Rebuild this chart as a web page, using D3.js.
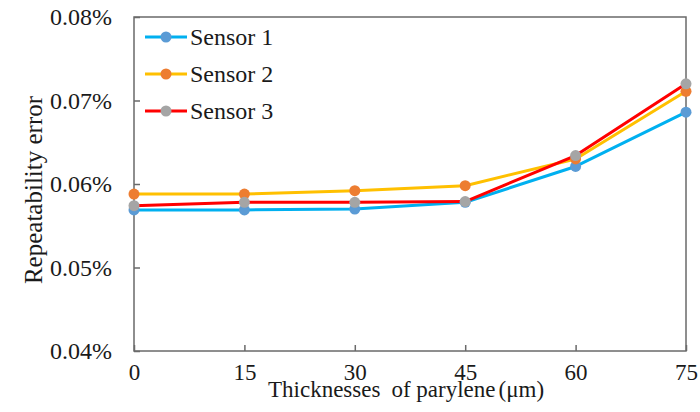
<!DOCTYPE html>
<html>
<head>
<meta charset="utf-8">
<script src="https://cdn.jsdelivr.net/npm/d3@7/dist/d3.min.js"></script>
<style>
  html, body { margin: 0; padding: 0; background: #fff; }
  svg { display: block; }
</style>
</head>
<body>
<svg id="chart" width="700" height="412"></svg>
<script>
const thickness = [0, 15, 30, 45, 60, 75];
const yTicks = [0.04, 0.05, 0.06, 0.07, 0.08];
const sensor1 = [0.0569, 0.0569, 0.0570, 0.0578, 0.0621, 0.0686];
const sensor2 = [0.0588, 0.0588, 0.0592, 0.0598, 0.0630, 0.0711];
const sensor3 = [0.0574, 0.0578, 0.0578, 0.0579, 0.0634, 0.0720];
const seriesNames = ["Sensor 1", "Sensor 2", "Sensor 3"];
const lineColors = ["#00B0F0", "#FFC000", "#FF0000"];
const markerColors = ["#5B9BD5", "#ED7D31", "#A5A5A5"];

const FONT = "'Liberation Serif'";
const TXT = "#1a1a1a";

const series = [sensor1, sensor2, sensor3].map((vals, i) => ({
  name: seriesNames[i], line: lineColors[i], marker: markerColors[i],
  values: vals.map((v, j) => ({ x: thickness[j], y: v }))
}));

const svg = d3.select("#chart");
const mLeft = 134, mRight = 686, mTop = 17, mBottom = 351;

const x = d3.scaleLinear().domain([0, 75]).range([mLeft, mRight]);
const y = d3.scaleLinear().domain([0.04, 0.08]).range([mBottom, mTop]);

const frameColor = "#6a6a6a";

// frame
svg.append("rect")
  .attr("x", mLeft).attr("y", mTop)
  .attr("width", mRight - mLeft).attr("height", mBottom - mTop)
  .attr("fill", "none").attr("stroke", frameColor).attr("stroke-width", 1.5);

// y axis
const yAxis = d3.axisLeft(y).tickValues(yTicks).tickSize(-6).tickPadding(22)
  .tickFormat(d => d3.format(".2f")(d) + "%");
const gy = svg.append("g").attr("transform", `translate(${mLeft},0)`).call(yAxis);
gy.select(".domain").remove();
gy.selectAll(".tick line").attr("stroke", frameColor).attr("stroke-width", 1.5);
gy.selectAll(".tick text")
  .style("font-family", FONT).style("font-size", "24px").attr("fill", TXT)
  .attr("dy", "0.33em");

// x axis
const xAxis = d3.axisBottom(x).tickValues(thickness).tickSize(-6).tickPadding(23);
const gx = svg.append("g").attr("transform", `translate(0,${mBottom})`).call(xAxis);
gx.select(".domain").remove();
gx.selectAll(".tick line").attr("stroke", frameColor).attr("stroke-width", 1.5);
gx.selectAll(".tick text")
  .style("font-family", FONT).style("font-size", "23px").attr("fill", TXT)
  .attr("y", 29).attr("dy", 0);

// axis titles
const xt = svg.append("text").attr("x", 268).attr("y", 397)
  .style("font-family", FONT).style("font-size", "23px").attr("fill", TXT);
xt.append("tspan").text("Thicknesses");
xt.append("tspan").attr("dx", 11).text("of parylene");
xt.append("tspan").attr("dx", 3).text("(μm)");

svg.append("text")
  .attr("transform", "translate(42,190) rotate(-90)")
  .attr("text-anchor", "middle")
  .style("font-family", FONT).style("font-size", "25px").attr("fill", TXT)
  .text("Repeatability error");

// lines
const line = d3.line().x(d => x(d.x)).y(d => y(d.y));
series.forEach(s => {
  svg.append("path").datum(s.values)
    .attr("d", line).attr("fill", "none")
    .attr("stroke", s.line).attr("stroke-width", 3)
    .attr("stroke-linejoin", "round");
});
series.forEach(s => {
  svg.selectAll(null).data(s.values).enter().append("circle")
    .attr("cx", d => x(d.x)).attr("cy", d => y(d.y)).attr("r", 5.5)
    .attr("fill", s.marker);
});

// legend
const lg = svg.append("g");
series.forEach((s, i) => {
  const cy = 37 + i * 37;
  lg.append("line").attr("x1", 145).attr("x2", 187).attr("y1", cy).attr("y2", cy)
    .attr("stroke", s.line).attr("stroke-width", 3);
  lg.append("circle").attr("cx", 166).attr("cy", cy).attr("r", 5.5).attr("fill", s.marker);
  lg.append("text").attr("x", 190).attr("y", cy).attr("dy", "0.33em")
    .style("font-family", FONT).style("font-size", "24px").attr("fill", TXT)
    .text(s.name);
});
</script>
</body>
</html>
